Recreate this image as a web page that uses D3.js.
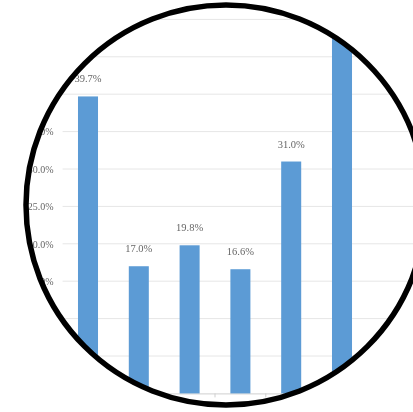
<!DOCTYPE html>
<html>
<head>
<meta charset="utf-8">
<script src="https://cdn.jsdelivr.net/npm/d3@7"></script>
<style>
  html, body { margin: 0; padding: 0; background: #fff; }
  svg { display: block; }
</style>
</head>
<body>
<svg id="chart" width="413" height="412"></svg>
<script>
// ---- data ----
const categories = ["C1", "C2", "C3", "C4", "C5", "C6"];
const values = [39.7, 17.0, 19.8, 16.6, 31.0, 55.0];
const yTicks = [0, 5, 10, 15, 20, 25, 30, 35, 40, 45, 50];

// ---- layout ----
const W = 413, H = 412;
const plot = { left: 62.6, right: 367.4, top: 19.4, bottom: 393.4, gridRight: 430 };
const ring = { cx: 226, cy: 205, r: 200 };

const svg = d3.select("#chart");
const defs = svg.append("defs");
defs.append("clipPath").attr("id", "ringClip")
  .append("circle").attr("cx", ring.cx).attr("cy", ring.cy).attr("r", ring.r);
const blur = defs.append("filter").attr("id", "soft")
  .attr("x", "-5%").attr("y", "-5%").attr("width", "110%").attr("height", "110%");
blur.append("feGaussianBlur").attr("stdDeviation", 0.45);

svg.append("rect").attr("width", W).attr("height", H).attr("fill", "#fff");

const x = d3.scaleBand().domain(categories)
  .range([plot.left, plot.right]).paddingInner(0.606).paddingOuter(0.303);
const y = d3.scaleLinear().domain([0, 50]).range([plot.bottom, plot.top]);

const g = svg.append("g").attr("clip-path", "url(#ringClip)")
  .append("g").attr("filter", "url(#soft)");

// gridlines
g.append("g").selectAll("line").data(yTicks.filter(d => d > 0)).join("line")
  .attr("x1", plot.left).attr("x2", plot.gridRight)
  .attr("y1", d => y(d)).attr("y2", d => y(d))
  .attr("stroke", "#e6e6e6").attr("stroke-width", 1);

// y axis labels
const yAxis = d3.axisLeft(y).tickValues(yTicks)
  .tickFormat(d => d.toFixed(1) + "%").tickSize(0).tickPadding(9);
const ya = g.append("g").attr("transform", `translate(${plot.left},0)`).call(yAxis);
ya.select(".domain").remove();
ya.selectAll("text").attr("fill", "#666").attr("font-family", "'Liberation Serif', serif")
  .attr("font-size", 10);

// x axis
const xAxis = d3.axisBottom(x).tickSize(0).tickFormat("");
const xa = g.append("g").attr("transform", `translate(0,${plot.bottom})`).call(xAxis);
xa.select(".domain").attr("stroke", "#cfcfcf");
g.append("g").selectAll("line").data(categories.slice(1)).join("line")
  .attr("x1", d => x(d) - x.step() * x.paddingInner() / 2)
  .attr("x2", d => x(d) - x.step() * x.paddingInner() / 2)
  .attr("y1", plot.bottom).attr("y2", plot.bottom + 4)
  .attr("stroke", "#cfcfcf");

// bars
g.append("g").selectAll("rect").data(values).join("rect")
  .attr("x", (d, i) => x(categories[i]))
  .attr("width", x.bandwidth())
  .attr("y", d => y(d))
  .attr("height", d => y(0) - y(d))
  .attr("fill", "#5B9BD5");

// value labels (only those that fall inside the plot area)
const labelData = values.map((v, i) => ({ v, c: categories[i] }))
  .filter(d => y(d.v) - 14 > plot.top);
g.append("g").selectAll("text").data(labelData).join("text")
  .attr("x", d => x(d.c) + x.bandwidth() / 2)
  .attr("y", d => y(d.v) - 14)
  .attr("text-anchor", "middle")
  .attr("fill", "#666")
  .attr("font-family", "'Liberation Serif', serif")
  .attr("font-size", 10.5)
  .text(d => d.v.toFixed(1) + "%");

// ring
svg.append("circle").attr("cx", ring.cx).attr("cy", ring.cy).attr("r", ring.r)
  .attr("fill", "none").attr("stroke", "#000").attr("stroke-width", 5.5);
</script>
</body>
</html>
